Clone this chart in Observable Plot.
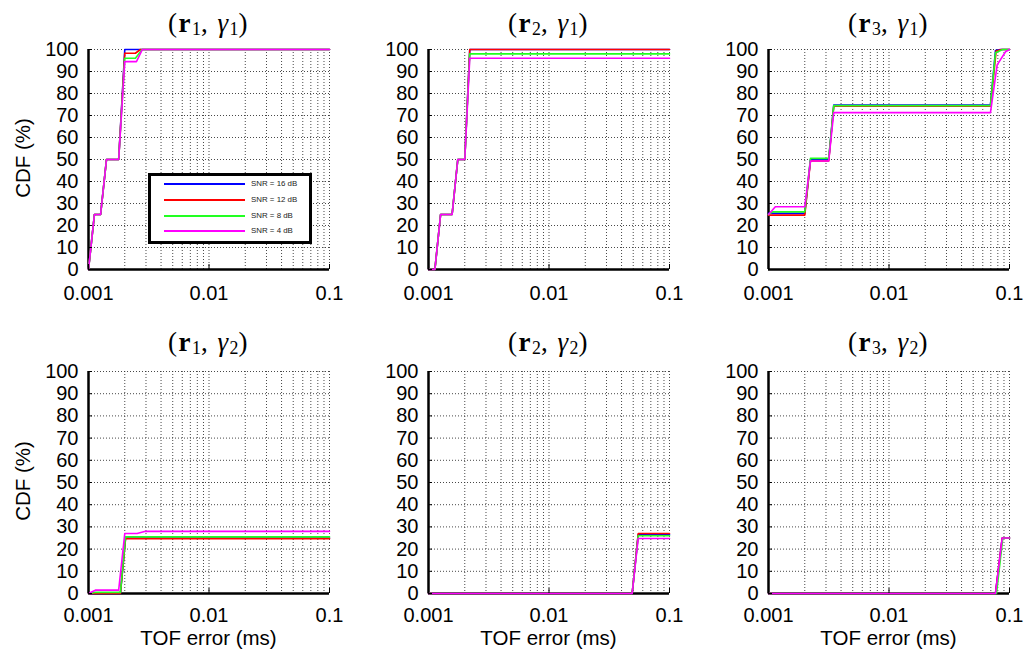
<!DOCTYPE html>
<html><head><meta charset="utf-8">
<script src="https://cdn.jsdelivr.net/npm/d3@7"></script>
<script src="https://cdn.jsdelivr.net/npm/@observablehq/plot@0.6"></script>
<style>
body{margin:0;background:#fff;}
#wrap{position:relative;width:1024px;height:661px;overflow:hidden;background:#fff;}
.panel{position:absolute;}
.panel svg{overflow:visible;background:transparent;display:block;}
.title{position:absolute;font-family:"Liberation Serif",serif;font-size:27px;letter-spacing:1.5px;line-height:1;transform:translate(-50%,-50%);white-space:nowrap;color:#000;}
.title b{font-weight:bold;}
.title i{font-style:italic;}
.title sub{font-size:66%;vertical-align:-0.2em;line-height:0;letter-spacing:0;}
.ylab{position:absolute;font-family:"Liberation Sans",Arial,sans-serif;font-size:20.5px;line-height:1;transform:translate(-50%,-50%) rotate(-90deg);white-space:nowrap;}
.xlab{position:absolute;font-family:"Liberation Sans",Arial,sans-serif;font-size:20.5px;line-height:1;transform:translate(-50%,-50%);white-space:nowrap;}
.legend{position:absolute;left:148px;top:173px;width:164px;height:71px;box-sizing:border-box;border:3px solid #000;background:#fff;}
.lgline{position:absolute;height:1.6px;width:81px;}
.lgtext{position:absolute;font-family:"Liberation Sans",Arial,sans-serif;font-size:7.9px;line-height:1;transform:translateY(-50%);color:#222;white-space:nowrap;}
</style>
</head><body>
<div id="wrap"></div>
<script>
// ---- data ----
const snrLabels = ["SNR = 16 dB", "SNR = 12 dB", "SNR = 8 dB", "SNR = 4 dB"];
const snrColors = ["#0000ff", "#ff0000", "#22ff22", "#ff00ff"];
const yTicks = [0, 10, 20, 30, 40, 50, 60, 70, 80, 90, 100];
const xTicks = [0.001, 0.01, 0.1];
const xGrid = [0.002,0.003,0.004,0.005,0.006,0.007,0.008,0.009,0.01,0.02,0.03,0.04,0.05,0.06,0.07,0.08,0.09,0.1];
const panelR = ["1", "2", "3", "1", "2", "3"];
const panelG = ["1", "1", "1", "2", "2", "2"];

// (r1, gamma1)
const r1g1_16 = [[0.001,0],[0.00112,25],[0.00126,25],[0.00141,50],[0.00178,50],[0.002,100],[0.1,100]];
const r1g1_12 = [[0.001,0],[0.00112,25],[0.00126,25],[0.00141,50],[0.00178,50],[0.002,98.3],[0.00245,98.3],[0.0027,100],[0.1,100]];
const r1g1_8  = [[0.001,0],[0.00112,25],[0.00126,25],[0.00141,50],[0.00178,50],[0.002,96],[0.00245,96],[0.00279,100],[0.1,100]];
const r1g1_4  = [[0.001,0],[0.00112,25],[0.00126,25],[0.00141,50],[0.00178,50],[0.002,94.5],[0.0025,94.5],[0.0028,100],[0.1,100]];
// (r2, gamma1)
const r2g1_16 = [[0.001,0],[0.00113,0],[0.00126,25],[0.00157,25],[0.00175,50],[0.002,50],[0.0022,100],[0.1,100]];
const r2g1_12 = [[0.001,0],[0.00113,0],[0.00126,25],[0.00157,25],[0.00175,50],[0.002,50],[0.0022,100],[0.1,100]];
const r2g1_8  = [[0.001,0],[0.00113,0],[0.00126,25],[0.00157,25],[0.00175,50],[0.002,50],[0.0022,98],[0.1,98]];
const r2g1_4  = [[0.001,0],[0.00113,0],[0.00126,25],[0.00157,25],[0.00175,50],[0.002,50],[0.0022,96],[0.1,96]];
// (r3, gamma1)
const r3g1_16 = [[0.001,25.5],[0.002,25.5],[0.00223,50],[0.00316,50],[0.00348,74.8],[0.0695,74.8],[0.0765,99.5],[0.084,100],[0.1,100]];
const r3g1_12 = [[0.001,24.7],[0.002,24.7],[0.00223,49.3],[0.00316,49.3],[0.00348,74.2],[0.0695,74.2],[0.0775,99.3],[0.086,100],[0.1,100]];
const r3g1_8  = [[0.001,25],[0.00108,26.2],[0.002,26.2],[0.00223,50.5],[0.00316,50.5],[0.00348,74.5],[0.0695,74.5],[0.0765,98.5],[0.088,100],[0.1,100]];
const r3g1_4  = [[0.001,25],[0.00114,28.5],[0.002,28.5],[0.00223,49.3],[0.00316,49.3],[0.00348,71.3],[0.0695,71.3],[0.079,93],[0.0927,99],[0.1,100]];
// (r1, gamma2)
const r1g2_16 = [[0.001,0],[0.00184,0],[0.00203,25],[0.1,25]];
const r1g2_12 = [[0.001,0],[0.00184,0],[0.00203,24.7],[0.1,24.7]];
const r1g2_8  = [[0.001,0],[0.00114,0.5],[0.00184,0.5],[0.00203,25.5],[0.1,25.5]];
const r1g2_4  = [[0.001,0],[0.00114,1.5],[0.00178,1.5],[0.002,27],[0.00253,27],[0.00297,28],[0.1,28]];
// (r2, gamma2)
const r2g2_16 = [[0.001,0],[0.049,0],[0.055,26.5],[0.1,26.5]];
const r2g2_12 = [[0.001,0],[0.049,0],[0.055,27],[0.1,27]];
const r2g2_8  = [[0.001,0],[0.049,0],[0.055,26],[0.1,26]];
const r2g2_4  = [[0.001,0],[0.049,0],[0.055,24.8],[0.1,24.8]];
// (r3, gamma2)
const r3g2_16 = [[0.001,0],[0.0765,0],[0.087,25],[0.1,25]];
const r3g2_12 = [[0.001,0],[0.0765,0],[0.087,25],[0.1,25]];
const r3g2_8  = [[0.001,0],[0.078,0],[0.088,25],[0.1,25]];
const r3g2_4  = [[0.001,0],[0.0765,0],[0.087,25],[0.1,25]];

const panelSeries = [
  [r1g1_16, r1g1_12, r1g1_8, r1g1_4],
  [r2g1_16, r2g1_12, r2g1_8, r2g1_4],
  [r3g1_16, r3g1_12, r3g1_8, r3g1_4],
  [r1g2_16, r1g2_12, r1g2_8, r1g2_4],
  [r2g2_16, r2g2_12, r2g2_8, r2g2_4],
  [r3g2_16, r3g2_12, r3g2_8, r3g2_4]
];

// ---- layout ----
const wrap = document.getElementById("wrap");
const W = 340, mL = 88, mR = 11, mT = 9, mB = 31;
const rowTop = [40, 362];
const rowH = [260, 262];
const titleY = [23, 342];
const xPad = [21, 19];

panelSeries.forEach((series, i) => {
  const col = i % 3, row = Math.floor(i / 3);
  const rows = [];
  series.forEach((pts, s) => pts.forEach(([x, y]) => rows.push({x, y, snr: snrLabels[s]})));
  const chart = Plot.plot({
    width: W, height: rowH[row],
    marginLeft: mL, marginRight: mR, marginTop: mT, marginBottom: mB,
    style: {fontFamily: "'Liberation Sans', Arial, sans-serif", fontSize: "20px", color: "#000", background: "transparent", overflow: "visible"},
    x: {type: "log", domain: [0.001, 0.1]},
    y: {domain: [0, 100]},
    color: {domain: snrLabels, range: snrColors},
    marks: [
      Plot.ruleY(yTicks.slice(1), {stroke: "#333", strokeWidth: 0.9, strokeDasharray: "1,2"}),
      Plot.ruleX(xGrid, {stroke: "#333", strokeWidth: 0.9, strokeDasharray: "1,2"}),
      Plot.ruleX([0.001], {stroke: "#000", strokeWidth: 2.5}),
      Plot.ruleY([0], {stroke: "#000", strokeWidth: 2.5}),
      Plot.line(rows, {x: "x", y: "y", z: "snr", stroke: "snr", strokeWidth: 1.6}),
      Plot.axisY(yTicks, {tickSize: -4, tickPadding: 14, label: null}),
      Plot.axisX(xTicks, {tickSize: -5, tickPadding: xPad[row], tickFormat: d => String(d), label: null})
    ]
  });
  const holder = document.createElement("div");
  holder.className = "panel";
  holder.style.left = (col * W) + "px";
  holder.style.top = rowTop[row] + "px";
  holder.appendChild(chart);
  wrap.appendChild(holder);

  const cx = col * W + mL + (W - mL - mR) / 2;
  const t = document.createElement("div");
  t.className = "title";
  t.style.left = cx + "px";
  t.style.top = titleY[row] + "px";
  t.innerHTML = "(<b>r</b><sub>" + panelR[i] + "</sub>,&nbsp;<i>&gamma;</i><sub>" + panelG[i] + "</sub>)";
  wrap.appendChild(t);

  if (col === 0) {
    const yl = document.createElement("div");
    yl.className = "ylab";
    yl.style.left = "23px";
    yl.style.top = (rowTop[row] + mT + (rowH[row] - mT - mB) / 2 - 1) + "px";
    yl.textContent = "CDF (%)";
    wrap.appendChild(yl);
  }
  if (row === 1) {
    const xl = document.createElement("div");
    xl.className = "xlab";
    xl.style.left = cx + "px";
    xl.style.top = "638px";
    xl.textContent = "TOF error (ms)";
    wrap.appendChild(xl);
  }
});

// legend (in first panel)
const lg = document.createElement("div");
lg.className = "legend";
wrap.appendChild(lg);
const lgY = [184, 200, 216, 231];
snrLabels.forEach((lab, s) => {
  const ln = document.createElement("div");
  ln.className = "lgline";
  ln.style.left = "164px";
  ln.style.top = (lgY[s] - 0.8) + "px";
  ln.style.background = snrColors[s];
  wrap.appendChild(ln);
  const tx = document.createElement("div");
  tx.className = "lgtext";
  tx.style.left = "251px";
  tx.style.top = lgY[s] + "px";
  tx.textContent = lab;
  wrap.appendChild(tx);
});
</script>
</body></html>
